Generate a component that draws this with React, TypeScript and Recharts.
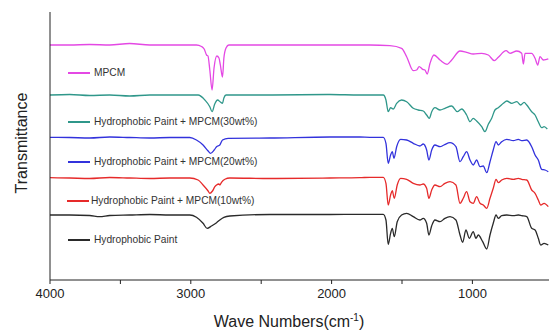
import { LineChart, Line, XAxis, YAxis } from "recharts";

// FTIR spectra, wave number (cm-1) vs transmittance (arbitrary offset units)
const mpcm: [number, number][] = [
  [4000, 235], [3860, 235], [3718, 235.5], [3576, 235], [3434, 236.5], [3291, 235], [3149, 235],
  [3007, 235], [2960, 235], [2924, 233.5], [2905, 231], [2888, 225], [2878, 224], [2865, 210],
  [2849, 190], [2835, 212], [2815, 224], [2800, 222], [2790, 215], [2775, 203], [2765, 222],
  [2750, 232], [2730, 235], [2439, 235], [2012, 235], [1799, 235], [1728, 235], [1586, 234.3],
  [1503, 231.7], [1467, 223.3], [1420, 209.3], [1396, 210], [1378, 213.3], [1353, 210.7],
  [1337, 210], [1321, 206], [1301, 216.7], [1273, 225], [1230, 220], [1179, 215.7], [1147, 220],
  [1088, 229], [1041, 227.7], [994, 226], [934, 226.7], [887, 225], [844, 219.3], [816, 222.7],
  [761, 229.3], [733, 226.7], [685, 229], [650, 226.7], [638, 216], [626, 226.7], [579, 226.7],
  [555, 221.7], [536, 215], [520, 223.3], [496, 220], [472, 220.7], [461, 221],
];

const paint30: [number, number][] = [
  [4000, 185], [3860, 185.5], [3718, 184.5], [3576, 185], [3434, 184], [3291, 185], [3149, 185],
  [3007, 185], [2948, 185], [2900, 180], [2865, 173.3], [2849, 168.3], [2830, 176], [2810, 180],
  [2790, 178], [2775, 176.7], [2765, 182], [2750, 185], [2723, 185], [2439, 185], [2012, 185.5],
  [1799, 185], [1728, 185], [1633, 185], [1614, 180], [1598, 168.3], [1581, 172.3], [1562, 171],
  [1538, 176.7], [1503, 180], [1467, 178.3], [1420, 171.7], [1385, 170], [1349, 169], [1325, 165],
  [1306, 161.7], [1289, 168.3], [1266, 172.3], [1230, 170], [1195, 171.7], [1147, 174],
  [1107, 168.3], [1076, 171], [1041, 165], [1017, 158.3], [994, 161.7], [970, 159], [934, 153.3],
  [911, 148.3], [887, 155.7], [863, 161.7], [840, 170], [816, 172.3], [780, 176.7], [756, 179],
  [721, 176.7], [685, 178.3], [657, 175], [633, 177.7], [614, 175], [579, 168.3], [555, 165],
  [532, 158.3], [508, 152.3], [491, 153.3], [468, 151],
];

const paint20: [number, number][] = [
  [4000, 142.7], [3860, 142.5], [3718, 142], [3576, 143], [3434, 142.5], [3291, 142], [3149, 142.5],
  [3007, 142.5], [2960, 140], [2913, 135], [2877, 129], [2860, 126.7], [2834, 130], [2817, 133.3],
  [2794, 135], [2775, 140], [2735, 141.7], [2439, 142], [2012, 143], [1799, 143], [1728, 142.7],
  [1633, 142.7], [1614, 136.7], [1598, 116.7], [1581, 125], [1569, 128.3], [1557, 121.7],
  [1538, 133.3], [1510, 140.7], [1467, 140], [1420, 136.7], [1373, 134], [1349, 136], [1325, 130],
  [1309, 120], [1289, 130], [1266, 135], [1230, 133.3], [1202, 135], [1159, 137.3], [1117, 133.3],
  [1088, 118.3], [1065, 123.3], [1041, 128.3], [1017, 120], [994, 115], [970, 120], [946, 113.3],
  [923, 114], [898, 107.3], [875, 118.3], [852, 130], [832, 138.3], [816, 135], [792, 138.3],
  [756, 140.7], [709, 139.3], [674, 140.7], [650, 139.3], [614, 140], [579, 133.3], [555, 125],
  [532, 120], [508, 110.7], [484, 110], [461, 108.3],
];

const paint10: [number, number][] = [
  [4000, 102.3], [3860, 102], [3718, 101.5], [3576, 102.5], [3434, 102], [3291, 101.5], [3149, 102],
  [3007, 102], [2948, 100], [2913, 95], [2877, 89], [2865, 86.7], [2846, 89], [2829, 93.3],
  [2817, 95], [2800, 96], [2794, 95], [2782, 97.7], [2758, 100.7], [2723, 102], [2439, 101.5],
  [2012, 102], [1799, 102.3], [1728, 102.7], [1633, 102.7], [1614, 96.7], [1598, 75], [1581, 85],
  [1569, 89.3], [1555, 81.7], [1534, 95], [1510, 101.7], [1467, 100.7], [1420, 96.7], [1373, 95],
  [1349, 96], [1325, 91.7], [1309, 81.7], [1289, 90], [1266, 95], [1230, 93.3], [1195, 96.7],
  [1159, 98.3], [1117, 95], [1088, 76.7], [1065, 81.7], [1041, 88.3], [1017, 78.3], [994, 76.7],
  [970, 83.3], [946, 76.7], [923, 75], [898, 71.7], [875, 81.7], [852, 91.7], [832, 100.7],
  [816, 97.3], [792, 100], [756, 101.7], [709, 100.7], [674, 101.7], [650, 100.7], [614, 100],
  [579, 90], [555, 86.7], [532, 80], [515, 75], [491, 76.7], [461, 73.3],
];

const paint: [number, number][] = [
  [4000, 65], [3860, 65], [3718, 64.5], [3647, 63.3], [3576, 64.5], [3434, 65], [3291, 65.5],
  [3149, 65], [3007, 65], [2960, 62.7], [2913, 56.7], [2884, 51.7], [2853, 54], [2817, 57.3],
  [2794, 60], [2765, 62.7], [2723, 64], [2439, 65.5], [2012, 65.5], [1799, 65.7], [1728, 65.7],
  [1633, 65.7], [1614, 60], [1598, 35.7], [1581, 46.7], [1569, 51.7], [1555, 43.3], [1534, 58.3],
  [1503, 65], [1467, 66.7], [1420, 63.3], [1373, 60], [1349, 61.7], [1325, 56.7], [1309, 45],
  [1289, 54.3], [1266, 60], [1230, 58.3], [1195, 61.7], [1159, 63.3], [1117, 60], [1088, 45],
  [1069, 37.7], [1046, 50], [1022, 41.7], [994, 48.3], [975, 41.7], [958, 45], [927, 38.3],
  [898, 31], [875, 45], [852, 56.7], [832, 65], [816, 61.7], [792, 64.3], [756, 65], [709, 64.3],
  [674, 65], [650, 64.3], [614, 63.3], [579, 51.7], [555, 50], [532, 41.7], [515, 35], [491, 36.7],
  [461, 35],
];

const xTicks = [4000, 3500, 3000, 2500, 2000, 1500, 1000];

const series = [
  { name: "MPCM", color: "#e448e4", points: mpcm, legendY: 72.5, lineX: 68, textX: 94 },
  { name: "Hydrophobic Paint + MPCM(30wt%)", color: "#2f978a", points: paint30, legendY: 121.5, lineX: 68, textX: 94 },
  { name: "Hydrophobic Paint + MPCM(20wt%)", color: "#3232dc", points: paint20, legendY: 161.7, lineX: 68, textX: 94 },
  { name: "Hydrophobic Paint + MPCM(10wt%)", color: "#e62a2a", points: paint10, legendY: 201, lineX: 67, textX: 91 },
  { name: "Hydrophobic Paint", color: "#2a2a2a", points: paint, legendY: 240, lineX: 68, textX: 94 },
];

const font = "Arial, 'Liberation Sans', sans-serif";

const XTitle = () => (
  <text x={289} y={327} textAnchor="middle" fontSize={16} fill="#222" fontFamily={font}>
    Wave Numbers(cm<tspan dy={-6} fontSize={10}>-1</tspan>
    <tspan dy={6}>)</tspan>
  </text>
);

const YTitle = () => (
  <text x={27} y={143} transform="rotate(-90, 27, 143)" textAnchor="middle" fontSize={16} fill="#222" fontFamily={font}>
    Transmittance
  </text>
);

export default function App() {
  return (
    <div style={{ position: "absolute", left: 0, top: 0, width: 549, height: 330, background: "#fff", overflow: "hidden" }}>
      <LineChart width={549} height={330} margin={{ top: 12, right: 0, left: 0, bottom: 0 }}>
        <XAxis
          type="number"
          dataKey="wn"
          domain={[456, 4000]}
          reversed
          allowDataOverflow
          ticks={xTicks}
          interval={0}
          tickFormatter={(v) => (v % 1000 === 0 ? String(v) : "")}
          tick={{ fontSize: 13, fill: "#222", fontFamily: font }}
          tickSize={4}
          tickMargin={5}
          tickLine={{ stroke: "#222" }}
          axisLine={{ stroke: "#222" }}
          height={50}
          label={<XTitle />}
        />
        <YAxis
          type="number"
          dataKey="t"
          domain={[0, 268]}
          tick={false}
          tickLine={false}
          axisLine={{ stroke: "#222" }}
          width={50}
          label={<YTitle />}
        />
        {series.map((s) => (
          <Line
            key={s.name}
            data={s.points.map(([wn, t]) => ({ wn, t }))}
            dataKey="t"
            type="monotone"
            stroke={s.color}
            strokeWidth={1.3}
            dot={false}
            activeDot={false}
            isAnimationActive={false}
          />
        ))}
      </LineChart>
      {series.map((s) => (
        <div key={s.name}>
          <div
            style={{
              position: "absolute",
              left: s.lineX,
              top: Math.round(s.legendY) - 1,
              width: 22,
              height: 1.5,
              background: s.color,
            }}
          />
          <div
            style={{
              position: "absolute",
              left: s.textX,
              top: s.legendY - 7,
              fontSize: 10.2,
              lineHeight: "14px",
              fontFamily: font,
              color: "#333",
              whiteSpace: "nowrap",
            }}
          >
            {s.name}
          </div>
        </div>
      ))}
    </div>
  );
}
